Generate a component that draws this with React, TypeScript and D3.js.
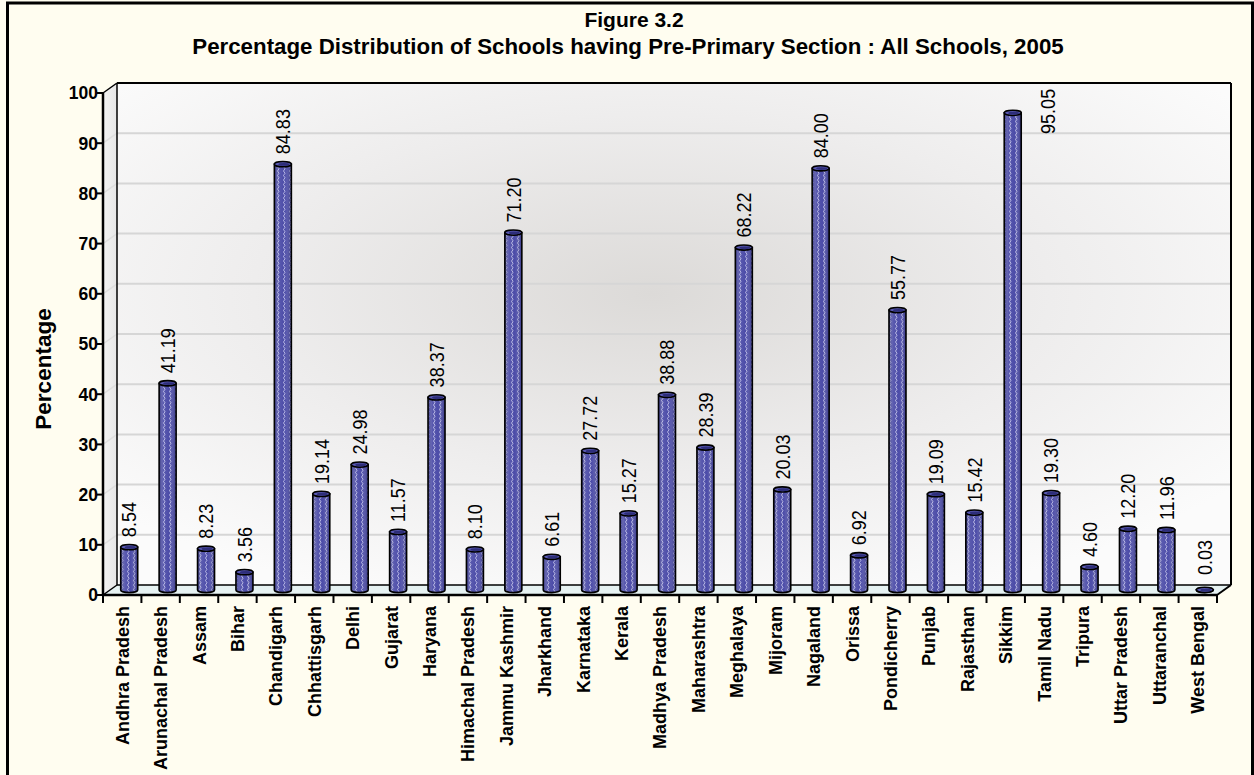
import React from "react";
import * as d3 from "d3";

const titleLine1 = "Figure 3.2";
const titleLine2 = "Percentage Distribution of Schools having Pre-Primary Section : All Schools, 2005";
const yAxisLabel = "Percentage";

const categories = [
  "Andhra Pradesh", "Arunachal Pradesh", "Assam", "Bihar", "Chandigarh", "Chhattisgarh",
  "Delhi", "Gujarat", "Haryana", "Himachal Pradesh", "Jammu Kashmir", "Jharkhand",
  "Karnataka", "Kerala", "Madhya Pradesh", "Maharashtra", "Meghalaya", "Mijoram",
  "Nagaland", "Orissa", "Pondicherry", "Punjab", "Rajasthan", "Sikkim", "Tamil Nadu",
  "Tripura", "Uttar Pradesh", "Uttaranchal", "West Bengal",
];
const values = [
  8.54, 41.19, 8.23, 3.56, 84.83, 19.14,
  24.98, 11.57, 38.37, 8.10, 71.20, 6.61,
  27.72, 15.27, 38.88, 28.39, 68.22, 20.03,
  84.00, 6.92, 55.77, 19.09, 15.42, 95.05, 19.30,
  4.60, 12.20, 11.96, 0.03,
];
const yTicks = [0, 10, 20, 30, 40, 50, 60, 70, 80, 90, 100];

const FONT = "'Liberation Sans', Arial, Helvetica, sans-serif";

export default function App() {
  const W = 1254, H = 775;
  const frontLeft = 103, frontRight = 1217;
  const DX = 14, DY = -10;
  const y = d3.scaleLinear().domain([0, 100]).range([595, 93]);
  const x = d3.scaleBand().domain(categories).range([frontLeft, frontRight]).padding(0);
  const bw = x.bandwidth();
  const barW = 17, rx = barW / 2, ry = 2.6;
  const wallTop = y(100) + DY;
  const wallBottom = y(0) + DY;
  const backLeft = frontLeft + DX, backRight = frontRight + DX;

  return (
    <svg width={W} height={H} style={{ position: "absolute", left: 0, top: 0, display: "block" }}
      xmlns="http://www.w3.org/2000/svg">
      <defs>
        <radialGradient id="wallGrad" cx="48%" cy="42%" r="65%">
          <stop offset="0%" stopColor="#dcdad8" />
          <stop offset="55%" stopColor="#eeeded" />
          <stop offset="100%" stopColor="#fbfbfb" />
        </radialGradient>
        <linearGradient id="sideGrad" x1="0" y1="0" x2="1" y2="0">
          <stop offset="0%" stopColor="#f4f4f4" />
          <stop offset="100%" stopColor="#e6e6e6" />
        </linearGradient>
        <pattern id="wave" width="6" height="9" patternUnits="userSpaceOnUse">
          <rect width="6" height="9" fill="#4c4ca8" />
          <path d="M1.5,0 Q4.5,2.25 1.5,4.5 Q4.5,6.75 1.5,9" fill="none" stroke="#dcdcf6" strokeOpacity="0.8" strokeWidth="0.9" />
        </pattern>
        <linearGradient id="cylShade" x1="0" y1="0" x2="1" y2="0">
          <stop offset="0%" stopColor="#101050" stopOpacity="0.55" />
          <stop offset="25%" stopColor="#ffffff" stopOpacity="0.08" />
          <stop offset="60%" stopColor="#ffffff" stopOpacity="0" />
          <stop offset="100%" stopColor="#101050" stopOpacity="0.45" />
        </linearGradient>
      </defs>

      {/* background */}
      <rect x={0} y={0} width={W} height={H} fill="#fffdf0" />
      <rect x={7.5} y={3} width={1245} height={790} fill="none" stroke="#000" strokeWidth={3} />

      {/* titles */}
      <text x={634} y={27} textAnchor="middle" fontFamily={FONT} fontWeight="bold" fontSize={21} fill="#000">{titleLine1}</text>
      <text x={628} y={54} textAnchor="middle" fontFamily={FONT} fontWeight="bold" fontSize={22.3} fill="#000">{titleLine2}</text>

      {/* back wall */}
      <rect x={backLeft} y={wallTop} width={backRight - backLeft} height={wallBottom - wallTop} fill="url(#wallGrad)" />
      {/* side wall */}
      <polygon points={`${frontLeft},${y(100)} ${backLeft},${wallTop} ${backLeft},${wallBottom} ${frontLeft},${y(0)}`} fill="url(#sideGrad)" />
      {/* floor */}
      <polygon points={`${frontLeft},${y(0)} ${backLeft},${wallBottom} ${backRight},${wallBottom} ${frontRight},${y(0)}`} fill="#e6f2f2" />

      {/* gridlines */}
      {yTicks.filter(t => t > 0 && t < 100).map(t => (
        <g key={"g" + t}>
          <line x1={backLeft} x2={backRight} y1={y(t) + DY} y2={y(t) + DY} stroke="#d6d6d6" strokeWidth={2} />
          <line x1={frontLeft} x2={backLeft} y1={y(t)} y2={y(t) + DY} stroke="#dedede" strokeWidth={1.5} />
        </g>
      ))}

      {/* frame lines */}
      <line x1={backLeft} x2={backRight} y1={wallTop} y2={wallTop} stroke="#000" strokeWidth={2} />
      <line x1={backRight} x2={backRight} y1={wallTop} y2={wallBottom} stroke="#000" strokeWidth={2} />
      <line x1={backLeft} x2={backLeft} y1={wallTop} y2={wallBottom} stroke="#000" strokeWidth={1.5} />
      <line x1={backLeft} x2={backRight} y1={wallBottom} y2={wallBottom} stroke="#000" strokeWidth={1.5} />
      <line x1={frontLeft} x2={backLeft} y1={y(100)} y2={wallTop} stroke="#000" strokeWidth={1.5} />
      <line x1={frontLeft} x2={backLeft} y1={y(0)} y2={wallBottom} stroke="#000" strokeWidth={1.5} />
      <line x1={frontRight} x2={backRight} y1={y(0)} y2={wallBottom} stroke="#000" strokeWidth={2} />
      <line x1={frontLeft} x2={frontLeft} y1={y(100)} y2={y(0) + 1} stroke="#000" strokeWidth={2.5} />
      <line x1={frontLeft} x2={frontRight} y1={y(0)} y2={y(0)} stroke="#000" strokeWidth={2.5} />

      {/* y ticks */}
      {yTicks.map(t => (
        <g key={"t" + t}>
          <line x1={frontLeft - 6} x2={frontLeft} y1={y(t)} y2={y(t)} stroke="#000" strokeWidth={2} />
          <text x={frontLeft - 5} y={y(t)} dy="0.36em" textAnchor="end" fontFamily={FONT} fontWeight="bold" fontSize={17.5} fill="#000">{t}</text>
        </g>
      ))}
      <text transform={`translate(43,369) rotate(-90)`} textAnchor="middle" dy="0.35em" fontFamily={FONT} fontWeight="bold" fontSize={22.5} fill="#000">{yAxisLabel}</text>

      {/* x ticks */}
      {categories.map((c, i) => (
        <line key={"xt" + i} x1={x(c)!} x2={x(c)!} y1={y(0)} y2={y(0) + 8} stroke="#000" strokeWidth={2} />
      ))}
      <line x1={frontRight} x2={frontRight} y1={y(0)} y2={y(0) + 8} stroke="#000" strokeWidth={2} />
      {categories.map((c, i) => (
        <text key={"xl" + i} transform={`translate(${x(c)! + bw / 2},606) rotate(-90)`} textAnchor="end" dy="0.36em"
          fontFamily={FONT} fontWeight="bold" fontSize={18} fill="#000">{c}</text>
      ))}

      {/* bars */}
      {categories.map((c, i) => {
        const v = values[i];
        const cx = x(c)! + bw / 2 + DX / 2;
        const base = y(0) + DY / 2;
        const top = y(v) + DY / 2;
        const l = cx - rx, r = cx + rx;
        const body = `M${l},${top} L${l},${base} A${rx},${ry} 0 0 0 ${r},${base} L${r},${top} Z`;
        return (
          <g key={"b" + i}>
            <path d={body} fill="url(#wave)" />
            <path d={body} fill="url(#cylShade)" stroke="#000" strokeWidth={1.6} />
            <ellipse cx={cx} cy={top} rx={rx} ry={ry} fill="#5a5ab4" stroke="#000" strokeWidth={1.6} />
            <ellipse cx={cx + 1} cy={top + 0.3} rx={rx - 3} ry={ry - 1.2} fill="#2e2e7a" />
          </g>
        );
      })}

      {/* value labels */}
      {categories.map((c, i) => {
        const v = values[i];
        const cx = x(c)! + bw / 2 + DX / 2;
        const top = y(v) + DY / 2;
        const label = v.toFixed(2);
        if (top - 55 < wallTop) {
          return (
            <text key={"vl" + i} transform={`translate(${cx + 35},${top - 24}) rotate(-90) scale(1,1.12)`} textAnchor="end" dy="0.36em"
              fontFamily={FONT} fontSize={18} fill="#000">{label}</text>
          );
        }
        const ly = Math.min(top - 10, y(0) - 20);
        return (
          <text key={"vl" + i} transform={`translate(${cx},${ly}) rotate(-90) scale(1,1.12)`} textAnchor="start" dy="0.36em"
            fontFamily={FONT} fontSize={18} fill="#000">{label}</text>
        );
      })}
    </svg>
  );
}
